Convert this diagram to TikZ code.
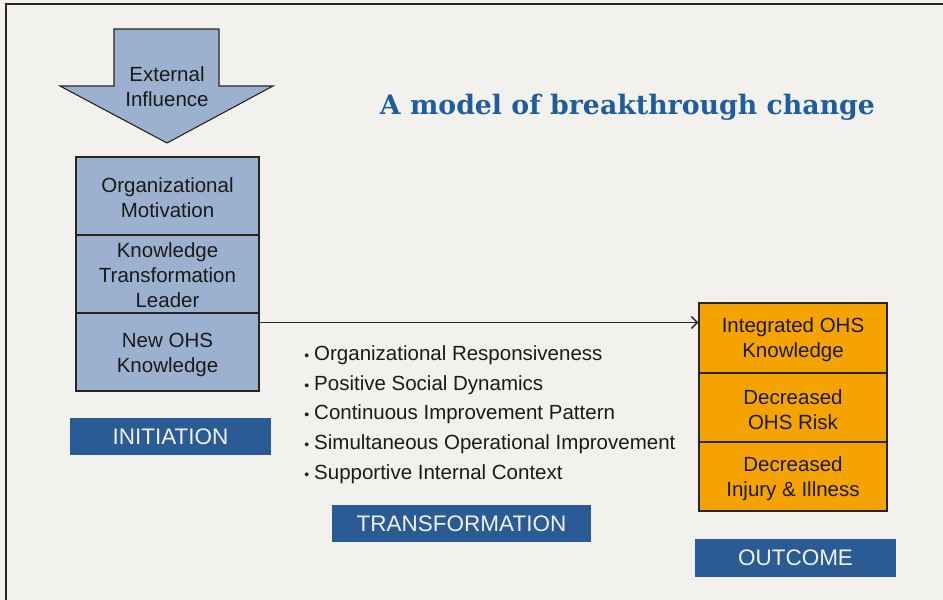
\documentclass[tikz,border=0pt]{standalone}
\usepackage{fontspec}
\setmainfont{Liberation Sans}
\newfontfamily\titlefont{DejaVu Serif}
\usetikzlibrary{arrows.meta}
\definecolor{bg}{HTML}{F2F1EE}
\definecolor{lblue}{HTML}{9BB1CF}
\definecolor{dblue}{HTML}{2B5B94}
\definecolor{orng}{HTML}{F4A300}
\definecolor{tblue}{HTML}{1F5E9A}
\definecolor{edge}{HTML}{2A2520}
\definecolor{txt}{HTML}{1C1A18}
\tikzset{
  x=1pt, y=-1pt,
  bodytext/.style={font=\fontsize{20.5}{25}\selectfont, text=txt, align=center},
  lbox/.style={bodytext, draw=edge, line width=1.3pt, fill=lblue, minimum width=183pt, inner sep=0pt},
  obox/.style={bodytext, draw=edge, line width=1.3pt, fill=orng, minimum width=188pt, inner sep=0pt},
  stagebox/.style={fill=dblue, text=white!94!black, font=\fontsize{22.5}{27}\selectfont, inner sep=0pt},
  bullet/.style={anchor=base west, font=\fontsize{20.5}{25}\selectfont, text=txt, inner sep=0pt},
}
\newcommand{\bul}{\llap{\fontsize{14}{14}\selectfont\textbullet\hspace{5pt}}}
\begin{document}
\begin{tikzpicture}
\useasboundingbox (0,0) rectangle (943,600);
\fill[bg] (0,0) rectangle (943,600);
\draw[edge, line width=1.3pt] (6,600) -- (6,4) -- (943,4);

% external influence arrow
\draw[fill=lblue, draw=edge, line width=1.1pt, line join=miter]
  (114,29) -- (219,29) -- (219,86) -- (273,86) -- (167,143) -- (60,86) -- (114,86) -- cycle;
\node[bodytext] (ext) at (167,87) {External\\Influence};

% title
\node[text=tblue, inner sep=0pt] (title) at (627.5,107.5)
  {\resizebox{495pt}{!}{\titlefont\bfseries A model of breakthrough change}};

% left stack
\node[lbox, minimum height=78pt] (om) at (167.5,196) {};
\node[lbox, minimum height=78pt] (kt) at (167.5,274) {};
\node[lbox, minimum height=78pt] (nk) at (167.5,352) {};
\node[bodytext] (omt) at (167.5,197.5) {Organizational\\Motivation};
\node[bodytext] (ktt) at (167.5,275.5) {Knowledge\\Transformation\\Leader};
\node[bodytext] (nkt) at (167.5,354.5) {New OHS\\Knowledge};

% right stack
\node[obox, minimum height=70pt] (ik) at (793,338) {};
\node[obox, minimum height=69pt] (dr) at (793,407.5) {};
\node[obox, minimum height=69pt] (di) at (793,476.5) {};
\node[bodytext] (ikt) at (793,340) {Integrated OHS\\Knowledge};
\node[bodytext] (drt) at (793,409.5) {Decreased\\OHS Risk};
\node[bodytext] (dit) at (793,478.5) {Decreased\\Injury \& Illness};

% connector
\coordinate (ay) at (0,322.5);
\draw[edge, line width=1.6pt, -{Straight Barb[length=6pt,width=12pt,line width=1.4pt]}]
  (nk.east |- ay) -- (ik.west |- ay);

% bullets
\node[bullet] (b1) at (314,360) {\bul Organizational Responsiveness};
\node[bullet] (b2) at (314,390) {\bul Positive Social Dynamics};
\node[bullet] (b3) at (314,419.5) {\bul Continuous Improvement Pattern};
\node[bullet] (b4) at (314,449) {\bul Simultaneous Operational Improvement};
\node[bullet] (b5) at (314,479) {\bul Supportive Internal Context};

% stage labels
\node[stagebox, minimum width=201pt, minimum height=37pt] (init) at (170.5,436.5) {INITIATION};
\node[stagebox, minimum width=259pt, minimum height=37pt] (trans) at (461.5,523.5) {TRANSFORMATION};
\node[stagebox, minimum width=201pt, minimum height=38pt] (out) at (795.5,558) {OUTCOME};
\end{tikzpicture}
\end{document}
